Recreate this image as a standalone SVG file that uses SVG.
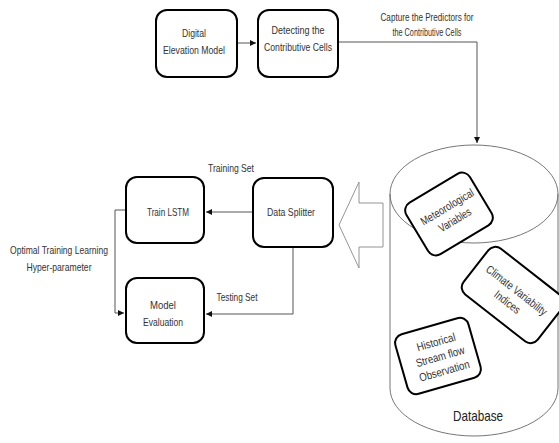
<svg xmlns="http://www.w3.org/2000/svg" width="559" height="443" viewBox="0 0 559 443">
<defs>
<style>
.box{fill:#fff;stroke:#000;stroke-width:2}
.t{font-family:"Liberation Sans",Arial,sans-serif;font-size:11.5px;fill:#333;text-anchor:middle}
.c{fill:none;stroke:#555;stroke-width:1}
.db{fill:none;stroke:#666;stroke-width:0.9}
</style>
<marker id="ah" markerWidth="8" markerHeight="8" refX="6" refY="3" orient="auto" markerUnits="userSpaceOnUse">
<path d="M0,0 L6,3 L0,6 Z" fill="#111"/>
</marker>
</defs>
<rect width="559" height="443" fill="#fff"/>

<g id="database">
<ellipse class="db" cx="474" cy="194" rx="84" ry="49"/>
<path class="db" d="M390,194 L390,388 A84,48 0 0 0 558,388 L558,194"/>
<text x="478" y="421" class="t" style="font-size:15px;fill:#222" textLength="50" lengthAdjust="spacingAndGlyphs">Database</text>
</g>

<g id="connectors">
<line class="c" x1="237" y1="43" x2="256" y2="43" marker-end="url(#ah)"/>
<polyline class="c" points="338,42 477,42 477,143" marker-end="url(#ah)"/>
<line class="c" x1="253" y1="212" x2="206" y2="212" marker-end="url(#ah)"/>
<polyline class="c" points="293,247 293,314 206,314" marker-end="url(#ah)"/>
<polyline class="c" points="126,210 115,210 115,313 124,313" marker-end="url(#ah)"/>
<text class="t" x="427" y="21" textLength="93" lengthAdjust="spacingAndGlyphs">Capture the Predictors for</text>
<text class="t" x="427" y="36" textLength="69" lengthAdjust="spacingAndGlyphs">the Contributive Cells</text>
<text class="t" x="231" y="172" textLength="46" lengthAdjust="spacingAndGlyphs">Training Set</text>
<text class="t" x="237" y="301" textLength="41" lengthAdjust="spacingAndGlyphs">Testing Set</text>
<text class="t" x="59" y="254" textLength="98" lengthAdjust="spacingAndGlyphs">Optimal Training Learning</text>
<text class="t" x="59" y="271" textLength="65" lengthAdjust="spacingAndGlyphs">Hyper-parameter</text>
<polygon points="339,225 359,182 359,203 383,203 383,247 359,247 359,268" fill="#fff" stroke="#888" stroke-width="0.9"/>
</g>

<g id="dem">
<rect class="box" x="156" y="10" width="81" height="67" rx="11"/>
<text class="t" x="194" y="37" textLength="24" lengthAdjust="spacingAndGlyphs">Digital</text>
<text class="t" x="194" y="54" textLength="62" lengthAdjust="spacingAndGlyphs">Elevation Model</text>
</g>

<g id="detecting">
<rect class="box" x="258" y="10" width="80" height="67" rx="11"/>
<text class="t" x="298" y="34" textLength="53" lengthAdjust="spacingAndGlyphs">Detecting the</text>
<text class="t" x="298" y="51" textLength="68" lengthAdjust="spacingAndGlyphs">Contributive Cells</text>
</g>

<g id="train-lstm">
<rect class="box" x="126" y="177" width="78" height="66" rx="11"/>
<text class="t" x="168" y="216" textLength="42" lengthAdjust="spacingAndGlyphs">Train LSTM</text>
</g>

<g id="data-splitter">
<rect class="box" x="253" y="178" width="80" height="69" rx="11"/>
<text class="t" x="291" y="216" textLength="48" lengthAdjust="spacingAndGlyphs">Data Splitter</text>
</g>

<g id="model-evaluation">
<rect class="box" x="126" y="278" width="78" height="65" rx="11"/>
<text class="t" x="163" y="309" textLength="26" lengthAdjust="spacingAndGlyphs">Model</text>
<text class="t" x="163" y="326" textLength="40" lengthAdjust="spacingAndGlyphs">Evaluation</text>
</g>

<g id="meteorological" transform="translate(449,214) rotate(-31)">
<rect class="box" x="-37" y="-30" width="74" height="60" rx="9"/>
<text class="t" x="2" y="-3" textLength="60" lengthAdjust="spacingAndGlyphs">Meteorological</text>
<text class="t" x="2" y="12" textLength="36" lengthAdjust="spacingAndGlyphs">Variables</text>
</g>

<g id="climate" transform="translate(513,295) rotate(38)">
<rect class="box" x="-47" y="-29" width="94" height="58" rx="9"/>
<text class="t" x="0" y="-2" textLength="74" lengthAdjust="spacingAndGlyphs">Climate Variability</text>
<text class="t" x="0" y="13" textLength="30" lengthAdjust="spacingAndGlyphs">Indices</text>
</g>

<g id="historical" transform="translate(438,356) rotate(-16)">
<rect class="box" x="-38" y="-31" width="76" height="62" rx="9"/>
<text class="t" x="2" y="-10" textLength="40" lengthAdjust="spacingAndGlyphs">Historical</text>
<text class="t" x="2" y="5" textLength="50" lengthAdjust="spacingAndGlyphs">Stream flow</text>
<text class="t" x="2" y="20" textLength="52" lengthAdjust="spacingAndGlyphs">Observation</text>
</g>
</svg>
